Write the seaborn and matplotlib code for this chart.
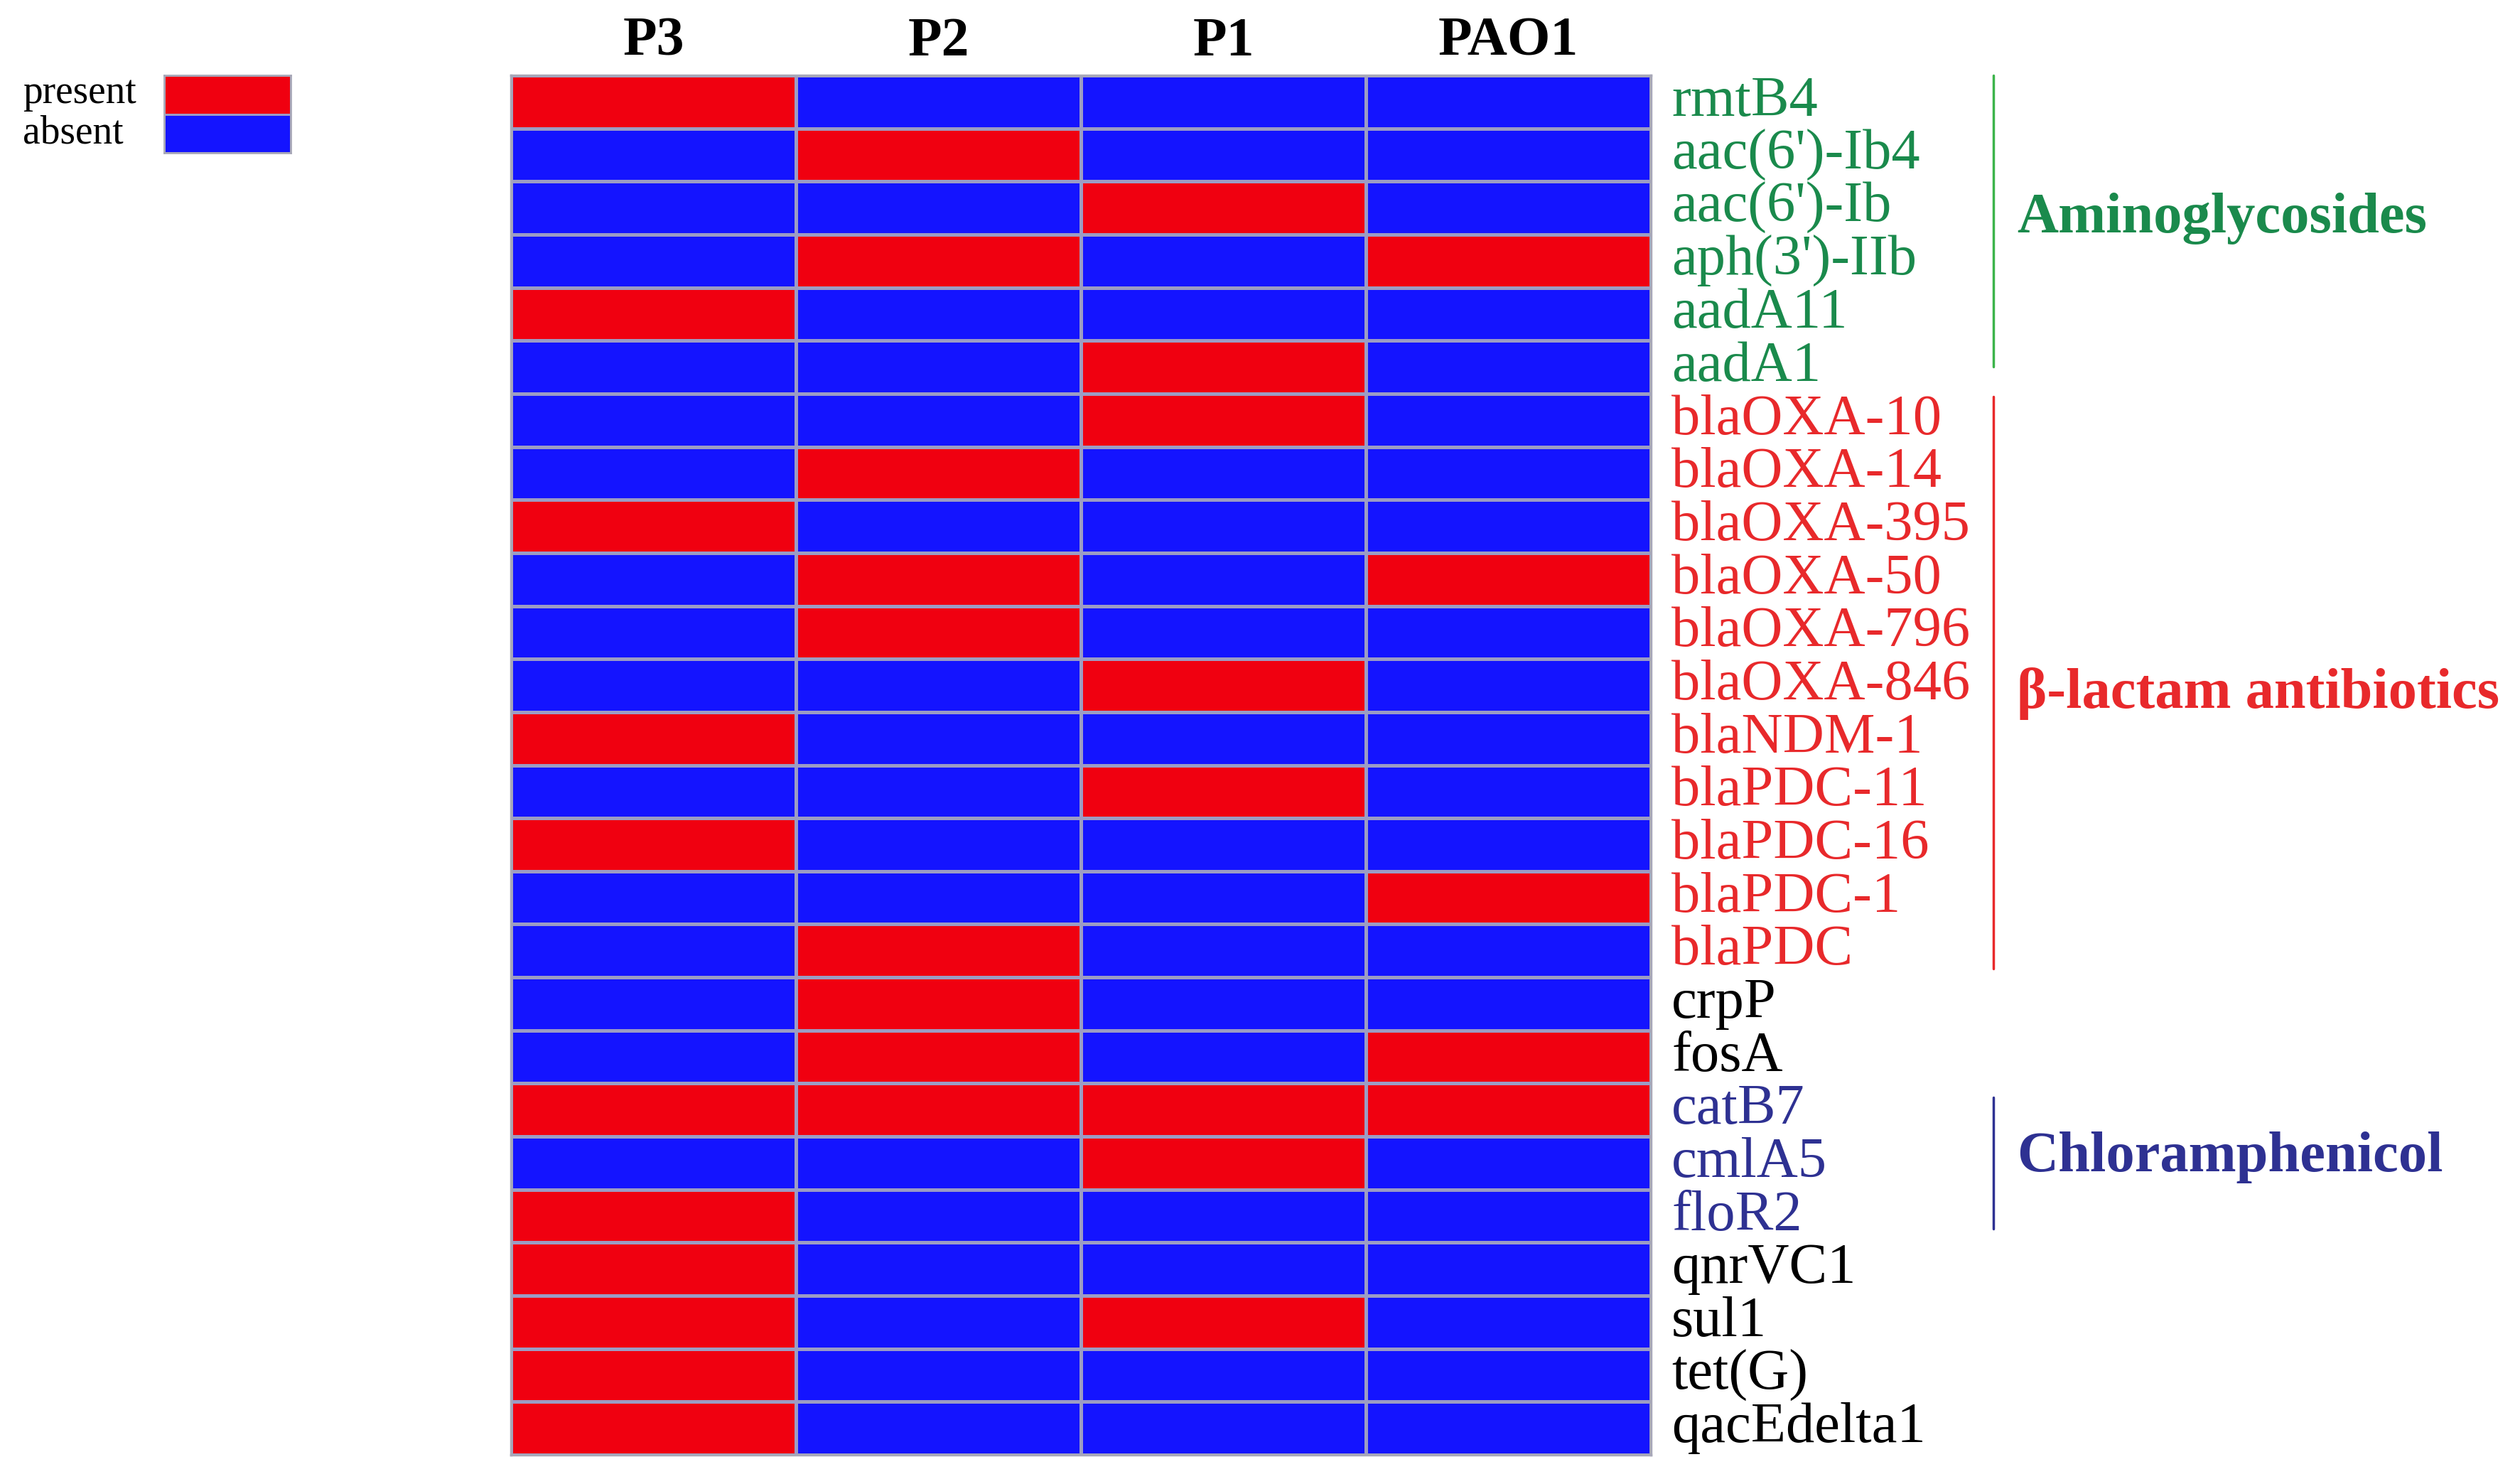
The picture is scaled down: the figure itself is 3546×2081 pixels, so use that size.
import numpy as np
import pandas as pd
import matplotlib
matplotlib.use("Agg")
import matplotlib.pyplot as plt
import matplotlib.transforms as mtransforms
from matplotlib.colors import ListedColormap
import seaborn as sns

# ---------------- data ----------------
strains = ["P3", "P2", "P1", "PAO1"]
genes = ["rmtB4", "aac(6')-Ib4", "aac(6')-Ib", "aph(3')-IIb", "aadA11", "aadA1",
         "blaOXA-10", "blaOXA-14", "blaOXA-395", "blaOXA-50", "blaOXA-796",
         "blaOXA-846", "blaNDM-1", "blaPDC-11", "blaPDC-16", "blaPDC-1", "blaPDC",
         "crpP", "fosA", "catB7", "cmlA5", "floR2", "qnrVC1", "sul1", "tet(G)",
         "qacEdelta1"]
P3   = [1, 0, 0, 0, 1, 0, 0, 0, 1, 0, 0, 0, 1, 0, 1, 0, 0, 0, 0, 1, 0, 1, 1, 1, 1, 1]
P2   = [0, 1, 0, 1, 0, 0, 0, 1, 0, 1, 1, 0, 0, 0, 0, 0, 1, 1, 1, 1, 0, 0, 0, 0, 0, 0]
P1   = [0, 0, 1, 0, 0, 1, 1, 0, 0, 0, 0, 1, 0, 1, 0, 0, 0, 0, 0, 1, 1, 0, 0, 1, 0, 0]
PAO1 = [0, 0, 0, 1, 0, 0, 0, 0, 0, 1, 0, 0, 0, 0, 0, 1, 0, 0, 1, 1, 0, 0, 0, 0, 0, 0]

groups = ["Aminoglycosides", "β-lactam antibiotics", "Chloramphenicol"]
group_rows = [(0, 5), (6, 16), (19, 21)]
legend_labels = ["present", "absent"]

# ---------------- style ----------------
sns.set_theme(style="white")
plt.rcParams['font.family'] = ['Liberation Serif', 'DejaVu Serif']

RED = "#f00010"
BLUE = "#1414ff"
GRID = "#9c9cc4"
GREEN_TXT = "#1a8a4c"
GREEN_LINE = "#3cb44b"
RED_TXT = "#e8292b"
NAVY = "#2e3192"

group_text_colors = [GREEN_TXT, RED_TXT, NAVY]
group_line_colors = [GREEN_LINE, RED_TXT, NAVY]

df = pd.DataFrame({"P3": P3, "P2": P2, "P1": P1, "PAO1": PAO1}, index=genes)[strains]

W, H = 3546, 2081
fig = plt.figure(figsize=(W / 100, H / 100), dpi=100)

x0, x1, y0, y1 = 719, 2323, 106, 2047
ax = fig.add_axes([x0 / W, 1 - y1 / H, (x1 - x0) / W, (y1 - y0) / H])
cmap = ListedColormap([BLUE, RED])
sns.heatmap(df, ax=ax, cmap=cmap, vmin=0, vmax=1, cbar=False,
            linewidths=2.2, linecolor=GRID, square=False)

for s in ax.spines.values():
    s.set_visible(True)
    s.set_color("#a8a8b8")
    s.set_linewidth(2.5)

# column labels on top
ax.xaxis.tick_top()
ax.set_xticklabels(strains, fontsize=56, fontweight="bold", color="black", rotation=0)
ax.tick_params(axis="x", length=0, pad=8)
ax.set_xlabel("")

# row labels on right
ax.yaxis.tick_right()
ax.set_yticklabels(genes, fontsize=58, rotation=0, va="center")
ax.tick_params(axis="y", length=0, pad=21)
ax.set_ylabel("")

row_color = ["black"] * len(genes)
for (r0, r1), c in zip(group_rows, group_text_colors):
    for r in range(r0, r1 + 1):
        row_color[r] = c
for lbl, c in zip(ax.get_yticklabels(), row_color):
    lbl.set_color(c)

# group brackets and labels
trans = mtransforms.blended_transform_factory(ax.transAxes, ax.transData)
line_spans = [(0.0, 5.49), (6.06, 16.84), (19.26, 21.74)]
label_y = [2.7, 11.66, 20.4]
for g, (ya, yb), ly, lc, tc in zip(groups, line_spans, label_y,
                                    group_line_colors, group_text_colors):
    ax.plot([1.3005, 1.3005], [ya, yb], transform=trans, color=lc,
            lw=2.5, clip_on=False)
    ax.text(1.321, ly, g, transform=trans, fontsize=58, fontweight="bold",
            color=tc, ha="left", va="center")

# legend (small heatmap)
lx0, lx1, ly0, ly1 = 231, 409, 106, 215
lax = fig.add_axes([lx0 / W, 1 - ly1 / H, (lx1 - lx0) / W, (ly1 - ly0) / H])
leg_df = pd.DataFrame({"v": [1, 0]}, index=legend_labels)
sns.heatmap(leg_df, ax=lax, cmap=cmap, vmin=0, vmax=1, cbar=False,
            linewidths=2.0, linecolor=GRID, xticklabels=False, yticklabels=False)
for s in lax.spines.values():
    s.set_visible(True)
    s.set_color("#a8a8b8")
    s.set_linewidth(2)
lax.set_xlabel("")
lax.set_ylabel("")
for i, t in enumerate(legend_labels):
    fig.text(32 / W, 1 - (131 + 57 * i) / H, t, fontsize=40, color="black",
             ha="left", va="center")

fig.savefig("out.png", dpi=100, facecolor="white")
